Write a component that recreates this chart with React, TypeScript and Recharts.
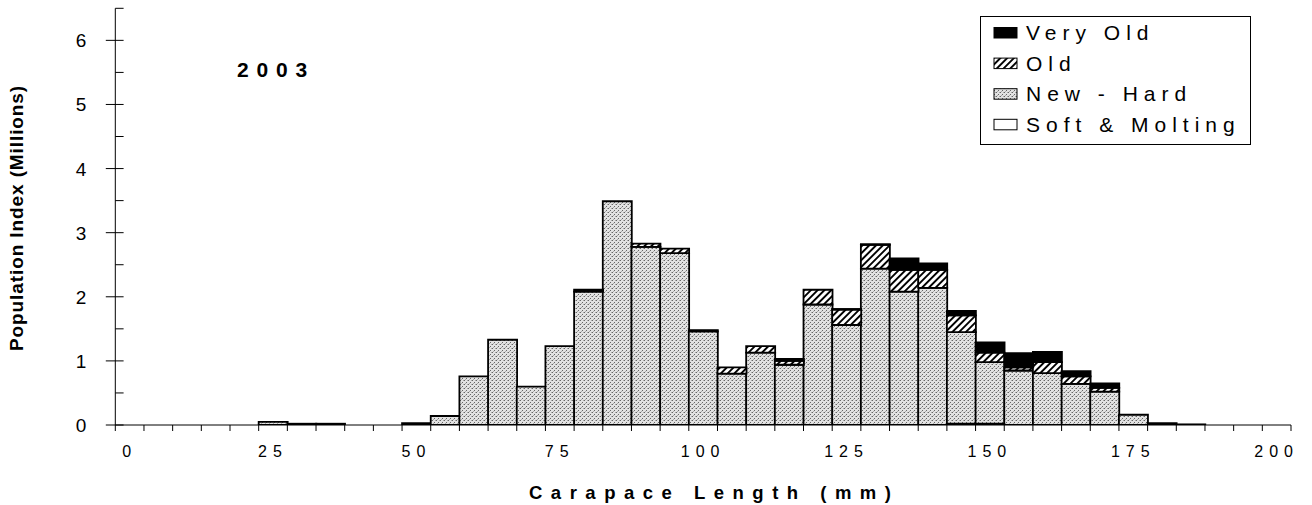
import React from 'react';
import { BarChart, Bar, XAxis, YAxis, Legend } from 'recharts';

// ---- data ----
const binStarts = [0, 5, 10, 15, 20, 25, 30, 35, 40, 45, 50, 55, 60, 65, 70, 75, 80, 85, 90, 95, 100, 105, 110, 115, 120, 125, 130, 135, 140, 145, 150, 155, 160, 165, 170, 175, 180, 185, 190, 195, 200];
const softMolting = [0, 0, 0, 0, 0, 0, 0, 0, 0, 0, 0, 0, 0, 0, 0, 0, 0, 0, 0, 0, 0, 0, 0, 0, 0, 0, 0, 0, 0, 0.02, 0.02, 0, 0, 0, 0, 0, 0, 0, 0, 0, 0];
const newHard = [0, 0, 0, 0, 0, 0.05, 0.02, 0.02, 0, 0, 0.03, 0.14, 0.76, 1.33, 0.6, 1.23, 2.08, 3.49, 2.78, 2.68, 1.46, 0.8, 1.13, 0.94, 1.88, 1.56, 2.44, 2.08, 2.14, 1.43, 0.96, 0.85, 0.81, 0.64, 0.52, 0.16, 0.03, 0.01, 0, 0, 0];
const oldShell = [0, 0, 0, 0, 0, 0, 0, 0, 0, 0, 0, 0, 0, 0, 0, 0, 0, 0, 0.05, 0.07, 0, 0.1, 0.1, 0.06, 0.23, 0.24, 0.37, 0.34, 0.28, 0.26, 0.15, 0.05, 0.17, 0.12, 0.06, 0, 0, 0, 0, 0, 0];
const veryOld = [0, 0, 0, 0, 0, 0, 0, 0, 0, 0, 0, 0, 0, 0, 0, 0, 0.03, 0, 0, 0, 0.02, 0, 0, 0.03, 0, 0.01, 0.01, 0.18, 0.1, 0.07, 0.16, 0.22, 0.16, 0.08, 0.07, 0, 0, 0, 0, 0, 0];
const BIN_WIDTH = 5;
const xLabelBins = [0, 25, 50, 75, 100, 125, 150, 175, 200];
const yTicks = [0, 0.5, 1, 1.5, 2, 2.5, 3, 3.5, 4, 4.5, 5, 5.5, 6, 6.5];
const yLabelTicks = [0, 1, 2, 3, 4, 5, 6];
const yearLabel = '2003';
const xTitle = 'Carapace Length (mm)';
const yTitle = 'Population Index (Millions)';
const legendItems = [
  { name: 'Very Old', fill: 'url(#lgVeryOld)' },
  { name: 'Old', fill: 'url(#lgOld)' },
  { name: 'New - Hard', fill: 'url(#lgNewHard)' },
  { name: 'Soft & Molting', fill: '#ffffff' },
];

const data = binStarts.map((b, i) => ({
  bin: b,
  mid: b + BIN_WIDTH / 2,
  soft: softMolting[i],
  newHard: newHard[i],
  old: oldShell[i],
  veryOld: veryOld[i],
}));

const boundaryTicks = [...binStarts, binStarts[binStarts.length - 1] + BIN_WIDTH];
const labelCenters = xLabelBins.map((b) => b + BIN_WIDTH / 2);
const xTicks = [...boundaryTicks, ...labelCenters].sort((a, b) => a - b);

const FONT = "'Liberation Sans', Arial, Helvetica, sans-serif";

const XTick = (props: any) => {
  const { x, y, payload } = props;
  const v = payload.value;
  const li = labelCenters.indexOf(v);
  if (li >= 0) {
    return (
      <text x={x} y={y + 32} textAnchor="middle" fontFamily={FONT} fontSize={16} letterSpacing={6} fill="#000">
        {String(xLabelBins[li])}
      </text>
    );
  }
  return <line x1={x} y1={y} x2={x} y2={y + 6} stroke="#000" strokeWidth={1} />;
};

const YTick = (props: any) => {
  const { x, y, payload } = props;
  const v = payload.value;
  const major = yLabelTicks.includes(v);
  return (
    <g>
      <line x1={major ? x - 9.5 : x} y1={y} x2={x + 8.3} y2={y} stroke="#000" strokeWidth={1} />
      {major && (
        <text x={x - 29} y={y + 7} textAnchor="end" fontFamily={FONT} fontSize={19} fill="#000">
          {String(v)}
        </text>
      )}
    </g>
  );
};

const Patterns = ({ prefix }: { prefix: string }) => (
  <defs>
    <pattern id={`${prefix}NewHard`} width="4" height="4" patternUnits="userSpaceOnUse">
      <rect width="4" height="4" fill="#e2e2e2" />
      <rect x="0" y="0" width="1" height="1" fill="#666666" />
      <rect x="2" y="2" width="1" height="1" fill="#666666" />
      <rect x="3" y="0" width="1" height="1" fill="#aaaaaa" />
      <rect x="1" y="3" width="1" height="1" fill="#aaaaaa" />
    </pattern>
    <pattern id={`${prefix}Old`} width="4.8" height="4.8" patternUnits="userSpaceOnUse" patternTransform="rotate(45)">
      <rect width="4.8" height="4.8" fill="#ffffff" />
      <rect x="0" y="0" width="1.9" height="4.8" fill="#000000" />
    </pattern>
    <pattern id={`${prefix}VeryOld`} width="4" height="4" patternUnits="userSpaceOnUse">
      <rect width="4" height="4" fill="#000000" />
    </pattern>
  </defs>
);

const LegendBox = () => (
  <svg width={272} height={130} style={{ display: 'block' }}>
    <Patterns prefix="lg" />
    <rect x={0.5} y={0.5} width={270} height={128} fill="#fff" stroke="#000" strokeWidth={1} />
    {legendItems.map((it, i) => {
      const base = 24 + i * 30.6;
      return (
        <g key={it.name}>
          <rect x={14} y={base - 12.5} width={23} height={10.5} fill={it.fill} stroke="#000" strokeWidth={1} />
          <text x={46} y={base} fontFamily={FONT} fontSize={21} letterSpacing={6} fill="#000">
            {it.name}
          </text>
        </g>
      );
    })}
  </svg>
);

export default function App() {
  return (
    <div style={{ position: 'absolute', left: 0, top: 0, width: 1312, height: 505, background: '#fff', fontFamily: FONT, overflow: 'hidden' }}>
      <BarChart
        width={1312}
        height={505}
        data={data}
        margin={{ top: 8.3, right: 21, bottom: 0, left: 0 }}
        barCategoryGap={0}
        barGap={0}
      >
        <Patterns prefix="bar" />
        <XAxis
          dataKey="mid"
          type="number"
          domain={[0, 205]}
          ticks={xTicks}
          interval={0}
          allowDataOverflow
          height={80}
          tickLine={false}
          tickSize={0}
          tickMargin={0}
          tick={<XTick />}
          axisLine={{ stroke: '#000', strokeWidth: 1 }}
        />
        <YAxis
          type="number"
          domain={[0, 6.5]}
          ticks={yTicks}
          interval={0}
          allowDataOverflow
          width={115.3}
          tickLine={false}
          tickSize={0}
          tickMargin={0}
          tick={<YTick />}
          axisLine={{ stroke: '#000', strokeWidth: 1 }}
        />
        <Legend
          layout="vertical"
          align="center"
          verticalAlign="middle"
          content={() => <LegendBox />}
          wrapperStyle={{ position: 'absolute', left: 980, top: 16, width: 272, height: 130 }}
        />
        <Bar name="Soft & Molting" dataKey="soft" stackId="s" fill="#ffffff" stroke="#000" strokeWidth={1.8} isAnimationActive={false} />
        <Bar name="New - Hard" dataKey="newHard" stackId="s" fill="url(#barNewHard)" stroke="#000" strokeWidth={1.8} isAnimationActive={false} />
        <Bar name="Old" dataKey="old" stackId="s" fill="url(#barOld)" stroke="#000" strokeWidth={1.8} isAnimationActive={false} />
        <Bar name="Very Old" dataKey="veryOld" stackId="s" fill="#000000" stroke="#000" strokeWidth={1.8} isAnimationActive={false} />
      </BarChart>
      <svg width={1312} height={505} style={{ position: 'absolute', left: 0, top: 0, pointerEvents: 'none' }}>
        <text x={237} y={77} fontFamily={FONT} fontWeight="bold" fontSize={21} letterSpacing={7.8} fill="#000">
          {yearLabel}
        </text>
        <text x={529} y={499} fontFamily={FONT} fontWeight="bold" fontSize={18.5} letterSpacing={8.5} fill="#000">
          {xTitle}
        </text>
        <text
          transform="translate(22.7, 218) rotate(-90)"
          textAnchor="middle"
          fontFamily={FONT}
          fontWeight="bold"
          fontSize={19}
          letterSpacing={0.9}
          fill="#000"
        >
          {yTitle}
        </text>
      </svg>
    </div>
  );
}
